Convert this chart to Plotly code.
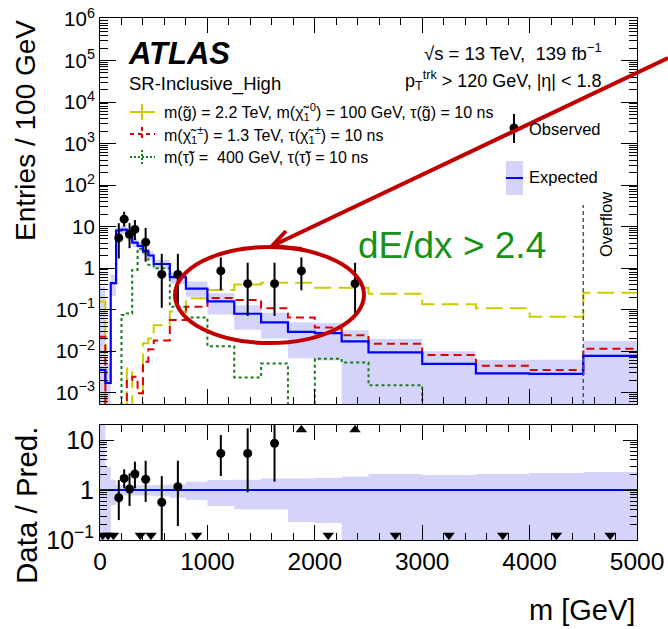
import plotly.graph_objects as go

# ---------------- data ----------------
bin_edges = [0, 50, 100, 150, 200, 250, 300, 350, 400, 450, 500, 650, 800, 1000,
             1250, 1500, 1750, 2000, 2250, 2500, 3000, 3500, 4000, 4500, 5000]

expected = [3.5e-3, 1.7e-3, 0.43, 8.0, 8.4, 5.8, 4.1, 3.4, 2.6, 2.0, 1.25, 0.6, 0.32,
            0.157, 0.079, 0.049, 0.029, 0.027, 0.017, 0.0093, 0.0049, 0.0029, 0.0028, 0.0076]
# relative uncertainty band (upper / lower factor)
band_up = [100, 2.9, 1.6, 1.25, 1.25, 1.25, 1.25, 1.25, 1.25, 1.25, 1.26, 1.3, 1.47,
           1.58, 1.6, 1.71, 1.71, 1.74, 1.86, 2.09, 2.0, 2.1, 2.2, 2.3]
band_dn = [1e-6, 1e-6, 0.5, 0.78, 0.78, 0.78, 0.78, 0.78, 0.78, 0.78, 0.75, 0.7, 0.63,
           0.48, 0.41, 0.41, 0.23, 0.22, 1e-6, 1e-6, 1e-6, 1e-6, 1e-6, 1e-6]

sig_gluino = [0.155, 0, 0, 0, 0, 3.8e-3, 0, 0, 0.0154, 0.020, 0.042, 0.089, 0.186,
              0.295, 0.40, 0.44, 0.44, 0.335, 0.335, 0.24, 0.133, 0.107, 0.067, 0.254]
sig_chargino = [0.022, 0, 0, 0, 0, 2.0e-3, 2.4e-3, 9.6e-4, 5.5e-3, 0.011, 0.018, 0.056, 0.117,
                0.19, 0.17, 0.107, 0.064, 0.037, 0.024, 0.015, 0.0080, 0.0044, 0.0035, 0.0114]
sig_stau = [0, 0, 0, 0, 0.074, 0.08, 0.9, 2.9, 2.4, 1.2, 0.98, 0.117, 0.064,
            0.013, 2.3e-3, 5.0e-3, 0, 6.5e-3, 5.3e-3, 1.5e-3, 0, 0, 0, 0]

obs_x = [175, 225, 275, 325, 425, 575, 725, 1125, 1375, 1625, 1875, 2375]
obs_y = [5.3, 15, 6.5, 8.5, 4.2, 0.7, 0.7, 0.85, 0.42, 0.42, 0.85, 0.42]
obs_hi = [12, 22.7, 12, 14.3, 9.2, 2.2, 2.2, 1.8, 1.34, 1.34, 1.8, 1.34]
obs_lo = [1.7, 9.9, 3.0, 4.7, 1.42, 0.11, 0.11, 0.29, 0.07, 0.07, 0.29, 0.07]

ratio_x = [175, 225, 275, 325, 425, 575, 725, 1125, 1375, 1625]
ratio_y = [0.70, 1.71, 1.05, 2.09, 1.64, 0.57, 1.16, 5.4, 5.4, 8.6]
ratio_hi = [1.58, 2.6, 2.15, 3.7, 3.85, 1.9, 3.85, 12.6, 17.1, 25]
ratio_lo = [0.25, 1.08, 0.48, 1.08, 0.58, 0.001, 0.19, 1.9, 0.9, 1.47]
ratio_up_x = [1875, 2375]
ratio_down_x = [25, 75, 125, 375, 475, 900, 2125, 2750, 3250, 3750, 4250, 4750]

y_main_ticks = [1e-3, 1e-2, 1e-1, 1, 10, 1e2, 1e3, 1e4, 1e5, 1e6]
y_main_text = ["10<sup>\u22123</sup>", "10<sup>\u22122</sup>", "10<sup>\u22121</sup>", "1", "10",
               "10<sup>2</sup>", "10<sup>3</sup>", "10<sup>4</sup>", "10<sup>5</sup>", "10<sup>6</sup>"]
y_ratio_ticks = [0.1, 1, 10]
y_ratio_text = ["10<sup>\u22121</sup>", "1", "10"]
x_ticks = [0, 1000, 2000, 3000, 4000, 5000]

# ---------------- helpers ----------------
FONT = "Liberation Sans, Arial, Helvetica, sans-serif"
BAND = "#d4d4fa"
W, H = 668, 629
L, R, T, B = 100, 637, 18, 540


def PX(x):
    return (x - L) / (R - L)


def PY(y):
    return (B - y) / (B - T)


def step(vals, floor=1e-9):
    v = [max(a, floor) for a in vals]
    return v + [v[-1]]


fig = go.Figure()

# expected band (main)
band_lo_main = [e * d for e, d in zip(expected, band_dn)]
band_hi_main = [e * u for e, u in zip(expected, band_up)]
fig.add_trace(go.Scatter(x=bin_edges, y=step(band_lo_main), mode="lines", line=dict(width=0, shape="hv"),
                         showlegend=False, xaxis="x", yaxis="y", hoverinfo="skip"))
fig.add_trace(go.Scatter(x=bin_edges, y=step(band_hi_main), mode="lines", line=dict(width=0, shape="hv"),
                         fill="tonexty", fillcolor=BAND, showlegend=False, xaxis="x", yaxis="y", hoverinfo="skip"))

# signals
fig.add_trace(go.Scatter(x=bin_edges, y=step(sig_stau), mode="lines",
                         line=dict(color="#1a7a1a", width=2, shape="hv", dash="3px,3px"),
                         showlegend=False, xaxis="x", yaxis="y"))
fig.add_trace(go.Scatter(x=bin_edges, y=step(sig_gluino), mode="lines",
                         line=dict(color="#cccc00", width=2, shape="hv", dash="17px,7px"),
                         showlegend=False, xaxis="x", yaxis="y"))
fig.add_trace(go.Scatter(x=bin_edges, y=step(sig_chargino), mode="lines",
                         line=dict(color="#dd0000", width=2, shape="hv", dash="8px,5px"),
                         showlegend=False, xaxis="x", yaxis="y"))
# expected line
fig.add_trace(go.Scatter(x=bin_edges, y=step(expected), mode="lines",
                         line=dict(color="#0000ff", width=2.2, shape="hv"),
                         showlegend=False, xaxis="x", yaxis="y"))
# observed
fig.add_trace(go.Scatter(x=obs_x, y=obs_y, mode="markers",
                         marker=dict(color="black", size=9),
                         error_y=dict(type="data", symmetric=False,
                                      array=[h - v for h, v in zip(obs_hi, obs_y)],
                                      arrayminus=[v - l for l, v in zip(obs_lo, obs_y)],
                                      thickness=2, width=0, color="black"),
                         showlegend=False, xaxis="x", yaxis="y"))

# ratio panel
fig.add_trace(go.Scatter(x=bin_edges, y=step(band_dn), mode="lines", line=dict(width=0, shape="hv"),
                         showlegend=False, xaxis="x2", yaxis="y2", hoverinfo="skip"))
fig.add_trace(go.Scatter(x=bin_edges, y=step(band_up), mode="lines", line=dict(width=0, shape="hv"),
                         fill="tonexty", fillcolor=BAND, showlegend=False, xaxis="x2", yaxis="y2", hoverinfo="skip"))
fig.add_trace(go.Scatter(x=[0, 5000], y=[1, 1], mode="lines", line=dict(color="#0000ff", width=2),
                         showlegend=False, xaxis="x2", yaxis="y2"))
fig.add_trace(go.Scatter(x=ratio_x, y=ratio_y, mode="markers",
                         marker=dict(color="black", size=9),
                         error_y=dict(type="data", symmetric=False,
                                      array=[h - v for h, v in zip(ratio_hi, ratio_y)],
                                      arrayminus=[v - l for l, v in zip(ratio_lo, ratio_y)],
                                      thickness=2, width=0, color="black"),
                         showlegend=False, xaxis="x2", yaxis="y2"))
fig.add_trace(go.Scatter(x=ratio_down_x, y=[0.125] * len(ratio_down_x), mode="markers",
                         marker=dict(symbol="triangle-down", color="black", size=10),
                         showlegend=False, xaxis="x2", yaxis="y2"))
fig.add_trace(go.Scatter(x=ratio_up_x, y=[16] * len(ratio_up_x), mode="markers",
                         marker=dict(symbol="triangle-up", color="black", size=10),
                         showlegend=False, xaxis="x2", yaxis="y2"))

main_minor = [m * 10 ** k for k in range(-4, 7) for m in range(2, 10)]
ratio_minor = [m * 10 ** k for k in range(-1, 2) for m in range(2, 10)]

axis_common = dict(showline=True, linecolor="black", linewidth=1, mirror="ticks", automargin=False,
                   ticks="inside", tickcolor="black", showgrid=False, zeroline=False)

fig.update_layout(
    width=W, height=H, autosize=False,
    margin=dict(l=L, r=W - R, t=T, b=H - B, autoexpand=False),
    paper_bgcolor="white", plot_bgcolor="white",
    font=dict(family=FONT, color="black"),
    xaxis=dict(domain=[0, 1], range=[0, 5000], anchor="y", tickvals=x_ticks, showticklabels=False,
               ticklen=15, minor=dict(ticks="inside", dtick=200, tick0=0, ticklen=7, tickcolor="black"),
               **axis_common),
    yaxis=dict(domain=[PY(404), 1], type="log", range=[-3.277, 6.024], anchor="x",
               tickvals=y_main_ticks, ticktext=y_main_text, ticklen=16,
               tickfont=dict(size=20.5, family=FONT),
               minor=dict(ticks="inside", tickmode="array", tickvals=main_minor, ticklen=8, tickcolor="black"),
               **axis_common),
    xaxis2=dict(domain=[0, 1], range=[0, 5000], anchor="y2", tickvals=x_ticks,
                ticktext=[str(v) for v in x_ticks], ticklen=15, tickfont=dict(size=24.5, family=FONT),
                minor=dict(ticks="inside", dtick=200, tick0=0, ticklen=7, tickcolor="black"),
                **axis_common),
    yaxis2=dict(domain=[0, PY(425)], type="log", range=[-1, 1.301], anchor="x2",
                tickvals=y_ratio_ticks, ticktext=y_ratio_text, ticklen=14,
                tickfont=dict(size=25, family=FONT),
                minor=dict(ticks="inside", tickmode="array", tickvals=ratio_minor, ticklen=7, tickcolor="black"),
                **axis_common),
)

ann = []


def text(x, y, s, size, xanchor="left", yanchor="middle", color="black", angle=0):
    ann.append(dict(x=PX(x), y=PY(y), xref="paper", yref="paper", text=s, showarrow=False,
                    xanchor=xanchor, yanchor=yanchor, textangle=angle,
                    font=dict(size=size, color=color, family=FONT)))


text(126, 53, "<b><i>ATLAS</i></b>", 31)
text(127, 84, "SR-Inclusive_High", 18.5)
text(604, 52, "\u221as = 13 TeV,  139 fb<sup>\u22121</sup>", 18.5, xanchor="right")
text(604, 80, "p<sub>T</sub><sup>trk</sup> &gt; 120 GeV, |\u03b7| &lt; 1.8", 18, xanchor="right")
text(162, 112, "m(g\u0303) = 2.2 TeV, m(\u03c7\u0303<sub>1</sub><sup>0</sup>) = 100 GeV, \u03c4(g\u0303) = 10 ns", 16)
text(162, 135, "m(\u03c7\u0303<sub>1</sub><sup>\u00b1</sup>) = 1.3 TeV, \u03c4(\u03c7\u0303<sub>1</sub><sup>\u00b1</sup>) = 10 ns", 16)
text(162, 157, "m(\u03c4\u0303) =  400 GeV, \u03c4(\u03c4\u0303) = 10 ns", 16)
text(527, 129, "Observed", 16.5)
text(527, 177, "Expected", 16.5)
text(606, 225, "Overflow", 16.5, xanchor="center", angle=-90)
text(452, 245, "dE/dx &gt; 2.4", 37, xanchor="center", color="#179117")
text(8, 18, "Entries / 100 GeV", 28, xanchor="left", yanchor="top", angle=-90)
text(8, 425, "Data / Pred.", 29.5, xanchor="left", yanchor="top", angle=-90)
text(637, 610, "m [GeV]", 29, xanchor="right")
fig.update_layout(annotations=ann)

shapes = []


def line(x0, y0, x1, y1, color, width=2, dash="solid", layer="above"):
    shapes.append(dict(type="line", xref="paper", yref="paper", x0=PX(x0), y0=PY(y0), x1=PX(x1), y1=PY(y1),
                       line=dict(color=color, width=width, dash=dash), layer=layer))


# legend markers
line(130, 112, 155, 112, "#cccc00")
line(142, 104, 142, 120, "#cccc00")
line(130, 134, 155, 134, "#dd0000", dash="4px,4px")
line(142, 127, 142, 141, "#dd0000", dash="4px,3px")
line(130, 157, 155, 157, "#1a7a1a", dash="2px,2px")
line(142, 150, 142, 164, "#1a7a1a", dash="2px,2px")
line(514, 114, 514, 143, "black")
shapes.append(dict(type="circle", xref="paper", yref="paper", x0=PX(509.5), x1=PX(518.5),
                   y0=PY(123.5), y1=PY(132.5), fillcolor="black", line=dict(color="black", width=0)))
shapes.append(dict(type="rect", xref="paper", yref="paper", x0=PX(506), x1=PX(523), y0=PY(195), y1=PY(161),
                   fillcolor=BAND, line=dict(width=0)))
line(506, 178, 523, 178, "#0000ff")

# overflow separator
shapes.append(dict(type="line", xref="x", yref="paper", x0=4500, x1=4500, y0=PY(404), y1=PY(205),
                   line=dict(color="#555555", width=1.5, dash="4px,3px")))

# ellipse and arrow
shapes.append(dict(type="circle", xref="paper", yref="paper", x0=PX(175), x1=PX(364), y0=PY(343), y1=PY(247),
                   line=dict(color="#c00000", width=4), layer="above"))
line(668, 58, 272, 246, "#c00000", width=4)
line(272, 246, 286, 231, "#c00000", width=4)
line(272, 246, 302, 249, "#c00000", width=4)
fig.update_layout(shapes=shapes)

fig.write_html("out.html")
